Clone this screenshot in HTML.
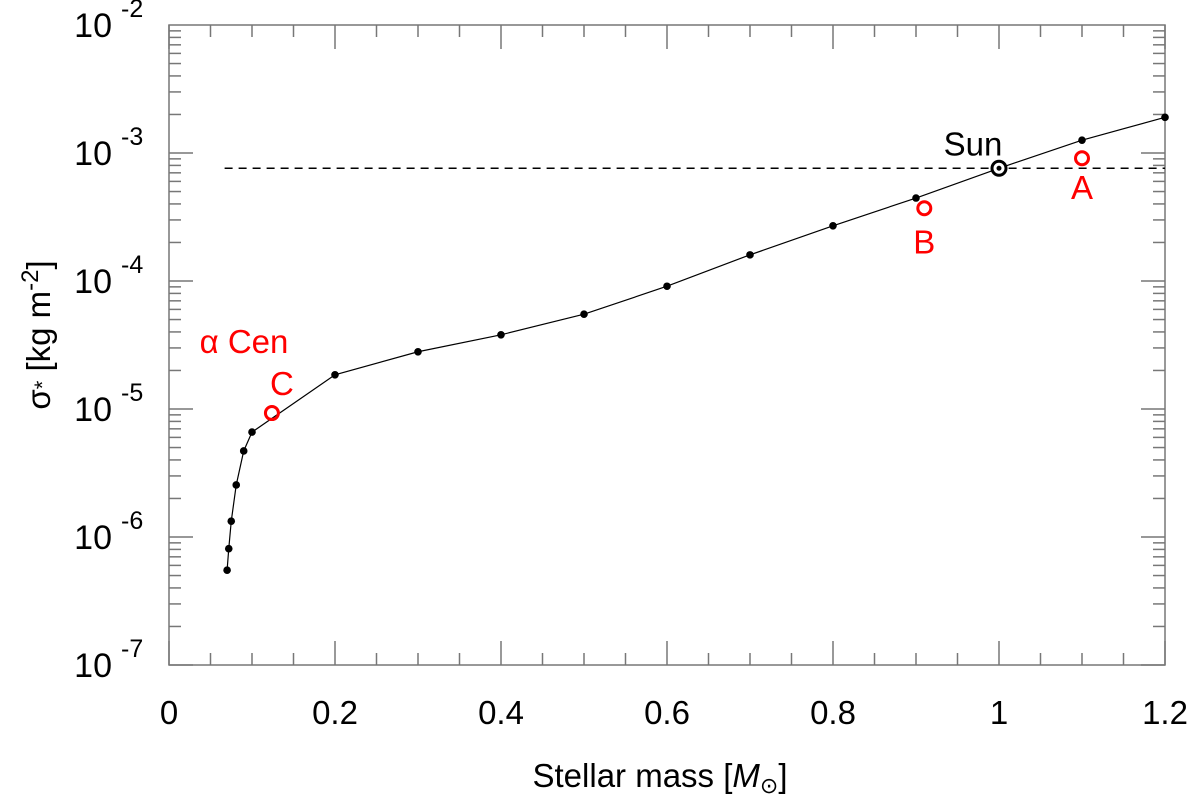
<!DOCTYPE html>
<html><head><meta charset="utf-8"><style>
body{margin:0;background:#fff}
svg{display:block;font-family:"Liberation Sans",sans-serif}
</style></head><body>
<svg id="chart" width="1200" height="800" viewBox="0 0 1200 800" xmlns="http://www.w3.org/2000/svg"></svg>
<script>
const masses=[0.07,0.072,0.075,0.081,0.09,0.1,0.2,0.3,0.4,0.5,0.6,0.7,0.8,0.9,1.0,1.1,1.2];
const sigmas=[5.5e-7,8.1e-7,1.33e-6,2.55e-6,4.7e-6,6.6e-6,1.85e-5,2.8e-5,3.8e-5,5.5e-5,9.1e-5,1.6e-4,2.7e-4,4.45e-4,7.6e-4,1.26e-3,1.9e-3];
const starNames=["A","B","C"];
const starMasses=[1.1,0.91,0.124];
const starSigmas=[9.1e-4,3.7e-4,9.3e-6];
const sunMass=1.0, sunSigma=7.6e-4;
const xTicks=[0,0.2,0.4,0.6,0.8,1,1.2];
const xTickLabels=["0","0.2","0.4","0.6","0.8","1","1.2"];
const yExps=[-2,-3,-4,-5,-6,-7];

const L=169,R=1165,T=25,B=665;
const X=m=>L+(m-0)/1.2*(R-L);
const Y=v=>T+(-2-Math.log10(v))*(B-T)/5;
const ns="http://www.w3.org/2000/svg";
const svg=document.getElementById('chart');
function mk(t,a,parent){const e=document.createElementNS(ns,t);for(const k in a)e.setAttribute(k,a[k]);(parent||svg).appendChild(e);return e;}

const tg=mk('g',{stroke:'#777','stroke-width':1.5});


for(let i=0;i<=24;i++){const m=i*0.05,x=X(m),len=(i%4===0)?24:12;
 mk('line',{x1:x,y1:B,x2:x,y2:B-len},tg);mk('line',{x1:x,y1:T,x2:x,y2:T+len},tg);}
for(let e=-7;e<-2;e++){for(let k=1;k<10;k++){const y=Y(k*Math.pow(10,e)),len=k===1?24:12;
 mk('line',{x1:L,y1:y,x2:L+len,y2:y},tg);mk('line',{x1:R,y1:y,x2:R-len,y2:y},tg);}}
const fr=mk('rect',{x:L,y:T,width:R-L,height:B-T,fill:'none',stroke:'#777','stroke-width':1.5});



xTicks.forEach((v,i)=>{const t=mk('text',{x:X(v),y:724,'font-size':33,'text-anchor':'middle',fill:'#000'});t.textContent=xTickLabels[i];
 
 });
yExps.forEach(e=>{const y=Y(Math.pow(10,e));const t=mk('text',{x:112,y:y+12,'font-size':34,'text-anchor':'end',fill:'#000'});t.textContent='10';
 
 
 const s=mk('text',{x:121,y:y-8,'font-size':25,fill:'#000'});s.textContent=String(e);
 
 });

const xt=mk('text',{x:660,y:787,'font-size':33,'text-anchor':'middle',fill:'#000'});
xt.innerHTML='Stellar mass [<tspan font-style="italic">M</tspan><tspan font-size="22" dy="6">⊙</tspan><tspan dy="-6">]</tspan>';


const yt=mk('text',{x:0,y:0,'font-size':33,'text-anchor':'middle',fill:'#000',transform:'translate(50,335) rotate(-90)'});
yt.innerHTML='σ<tspan font-size="22">*</tspan> [kg m<tspan font-size="24" dy="-12">-2</tspan><tspan dy="12">]</tspan>';



const dl=mk('line',{x1:X(0.067),y1:Y(sunSigma),x2:R,y2:Y(sunSigma),stroke:'#000','stroke-width':1.5,'stroke-dasharray':'8,6'});



const pl=mk('polyline',{points:masses.map((m,i)=>X(m)+','+Y(sigmas[i])).join(' '),fill:'none',stroke:'#000','stroke-width':1.2});


masses.forEach((m,i)=>{const c=mk('circle',{cx:X(m),cy:Y(sigmas[i]),r:3.8,fill:'#000'});
 
 });

const s1=mk('circle',{cx:X(sunMass),cy:Y(sunSigma),r:7,fill:'#fff',stroke:'#000','stroke-width':3});


mk('circle',{cx:X(sunMass),cy:Y(sunSigma),r:2.5,fill:'#000'});
const st=mk('text',{x:X(sunMass)-26,y:Y(sunSigma)-13,'font-size':33,'text-anchor':'middle',fill:'#000'});st.textContent='Sun';



const labOff=[[0,41],[0,45],[10,-18]];
starNames.forEach((n,i)=>{const x=X(starMasses[i]),y=Y(starSigmas[i]);
 const c=mk('circle',{cx:x,cy:y,r:6.5,fill:'none',stroke:'#f00','stroke-width':3});
 
 
 const t=mk('text',{x:x+labOff[i][0],y:y+labOff[i][1],'font-size':33,'text-anchor':'middle',fill:'#f00'});t.textContent=n;
 
 });
const ac=mk('text',{x:244,y:353,'font-size':33,'text-anchor':'middle',fill:'#f00'});ac.textContent='α Cen';


</script>
</body></html>
